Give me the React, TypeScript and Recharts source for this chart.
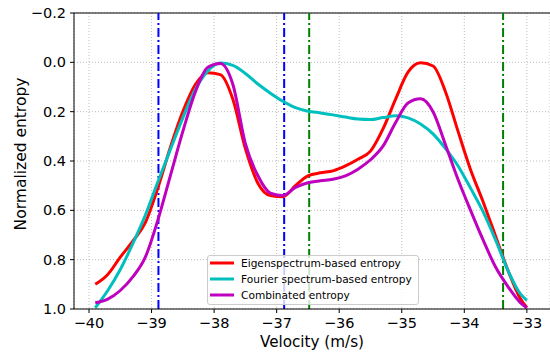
import React from 'react';
import {
  LineChart,
  Line,
  XAxis,
  YAxis,
  CartesianGrid,
  ReferenceLine,
  Legend,
  Label,
} from 'recharts';

const velocity = [
  -39.9, -39.7, -39.5, -39.3, -39.1, -38.9, -38.7, -38.5, -38.3, -38.1, -37.9, -37.7,
  -37.5, -37.3, -37.1, -36.9, -36.7, -36.5, -36.3, -36.1, -35.9, -35.7, -35.5, -35.3,
  -35.1, -34.9, -34.7, -34.5, -34.3, -34.1, -33.9, -33.7, -33.5, -33.3, -33.1, -33.0,
];

const eigenEntropy = [
  0.9, 0.86, 0.79, 0.725, 0.65, 0.51, 0.345, 0.2, 0.09, 0.042, 0.05, 0.15,
  0.35, 0.49, 0.54, 0.545, 0.5, 0.46, 0.448, 0.44, 0.42, 0.393, 0.36, 0.27,
  0.15, 0.04, 0.002, 0.015, 0.12, 0.28, 0.435, 0.565, 0.705, 0.845, 0.96, 0.995,
];

const fourierEntropy = [
  0.995, 0.925, 0.84, 0.735, 0.62, 0.485, 0.354, 0.225, 0.11, 0.035, 0.003, 0.012,
  0.045, 0.088, 0.125, 0.158, 0.184, 0.198, 0.205, 0.213, 0.222, 0.23, 0.232, 0.224,
  0.217, 0.225, 0.25, 0.29, 0.35, 0.42, 0.51, 0.605, 0.72, 0.845, 0.94, 0.965,
];

const combinedEntropy = [
  0.975, 0.96, 0.925, 0.87, 0.79, 0.64, 0.46, 0.28, 0.12, 0.02, 0.005, 0.09,
  0.33, 0.46, 0.53, 0.54, 0.507, 0.488, 0.48, 0.474, 0.46, 0.433, 0.395, 0.34,
  0.245, 0.165, 0.148, 0.2, 0.335, 0.475, 0.6, 0.72, 0.83, 0.91, 0.975, 0.995,
];

// dash-dot markers
const blueMarks = [-38.89, -36.88];
const greenMarks = [-36.48, -33.38];

const xTicks = [-40, -39, -38, -37, -36, -35, -34, -33];
const yTicks = [-0.2, 0, 0.2, 0.4, 0.6, 0.8, 1.0];

const seriesInfo = [
  { key: 'eigen', name: 'Eigenspectrum-based entropy', color: '#ff0000' },
  { key: 'fourier', name: 'Fourier spectrum-based entropy', color: '#00bfbf' },
  { key: 'combined', name: 'Combinated entropy', color: '#bf00bf' },
];

const data = velocity.map((v, i) => ({
  v,
  eigen: eigenEntropy[i],
  fourier: fourierEntropy[i],
  combined: combinedEntropy[i],
}));

const font = '"DejaVu Sans", sans-serif';
const minus = (n: number) => (n < 0 ? '\u2212' : '');

const LegendBox = () => (
  <div
    style={{
      border: '1px solid #cccccc',
      borderRadius: 3,
      background: 'rgba(255,255,255,0.8)',
      padding: '0 6px 0 2px',
      fontFamily: font,
      fontSize: 10.6,
      color: '#000',
      whiteSpace: 'nowrap',
    }}
  >
    {seriesInfo.map((s, i) => (
      <div
        key={s.key}
        style={{ display: 'flex', alignItems: 'center', height: 16, marginTop: i === 0 ? -1 : 0, marginBottom: i === 2 ? 1 : 0 }}
      >
        <svg width={24} height={6} style={{ marginRight: 7 }}>
          <line x1={0} y1={3} x2={24} y2={3} stroke={s.color} strokeWidth={3} />
        </svg>
        <span>{s.name}</span>
      </div>
    ))}
  </div>
);

export default function App() {
  return (
    <div style={{ position: 'absolute', left: 0, top: 0, background: '#fff' }}>
      <LineChart width={550} height={354} data={data} margin={{ top: 13, right: 0, bottom: 0, left: 0 }}>
        <CartesianGrid stroke="#bdbdbd" strokeDasharray="1 2" />
        <XAxis
          dataKey="v"
          type="number"
          domain={[-40.24, -32.63]}
          ticks={xTicks}
          allowDataOverflow
          height={45}
          tickSize={4}
          tickMargin={5}
          stroke="#000"
          tick={{ fill: '#000', fontSize: 14.5, fontFamily: font }}
          tickFormatter={(n: number) => minus(n) + Math.abs(n)}
        >
          <Label
            content={() => (
              <text x={312} y={342} textAnchor="middle" dominantBaseline="central" fontSize={15.2} fontFamily={font} fill="#000">
                Velocity (m/s)
              </text>
            )}
          />
        </XAxis>
        <YAxis
          type="number"
          domain={[-0.2, 1.0]}
          reversed
          ticks={yTicks}
          allowDataOverflow
          width={74}
          tickSize={4}
          tickMargin={4}
          stroke="#000"
          tick={{ fill: '#000', fontSize: 14.5, fontFamily: font }}
          tickFormatter={(n: number) => minus(n) + Math.abs(n).toFixed(1)}
        >
          <Label
            content={() => (
              <text
                x={21}
                y={154}
                transform="rotate(-90 21 154)"
                textAnchor="middle"
                dominantBaseline="central"
                fontSize={15.5}
                fontFamily={font}
                fill="#000"
              >
                Normalized entropy
              </text>
            )}
          />
        </YAxis>
        <ReferenceLine y={-0.2} stroke="#000" strokeWidth={1} />
        {blueMarks.map((x) => (
          <ReferenceLine key={'b' + x} x={x} stroke="#0000ff" strokeWidth={2} strokeDasharray="9 3 2 3" />
        ))}
        {greenMarks.map((x) => (
          <ReferenceLine key={'g' + x} x={x} stroke="#008000" strokeWidth={2} strokeDasharray="9 3 2 3" />
        ))}
        {seriesInfo.map((s) => (
          <Line
            key={s.key}
            type="monotone"
            dataKey={s.key}
            name={s.name}
            stroke={s.color}
            strokeWidth={3}
            dot={false}
            isAnimationActive={false}
          />
        ))}
        <Legend
          layout="vertical"
          align="center"
          verticalAlign="middle"
          content={() => <LegendBox />}
          wrapperStyle={{ left: 207, top: 255, width: 'auto' }}
        />
      </LineChart>
    </div>
  );
}
